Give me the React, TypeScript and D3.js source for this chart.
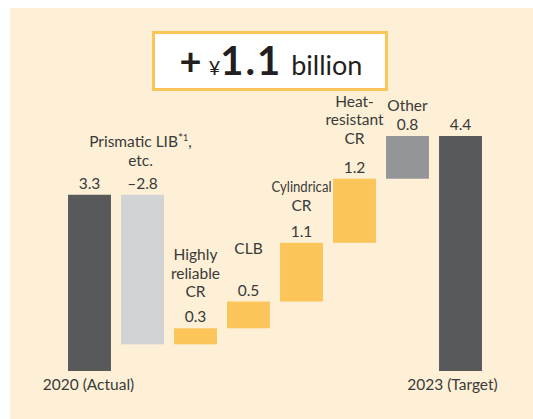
import React from 'react';
import * as d3 from 'd3';

// categories and values (¥ billion)
const categories = ['2020 (Actual)', 'Prismatic LIB', 'Highly reliable CR', 'CLB', 'Cylindrical CR', 'Heat-resistant CR', 'Other', '2023 (Target)'];
const values = [3.3, -2.8, 0.3, 0.5, 1.1, 1.2, 0.8, 4.4];
const valueLabels = ['3.3', '–2.8', '0.3', '0.5', '1.1', '1.2', '0.8', '4.4'];
const kinds = ['total', 'decrease', 'increase', 'increase', 'increase', 'increase', 'other', 'total'];
const labelLines = [
  [],
  ['Prismatic LIB*1,', 'etc.'],
  ['Highly', 'reliable', 'CR'],
  ['CLB'],
  ['Cylindrical', 'CR'],
  ['Heat-', 'resistant', 'CR'],
  ['Other'],
  [],
];

// layout: gap between value label and category label block
const labelGap = [0, 23, 25, 42, 26, 29, 19, 0];

const W = 533;
const H = 419;
const FONT = 'Lato, "Liberation Sans", sans-serif';
const TEXT = '#3a3a3a';

const colors: Record<string, string> = {
  total: '#58595b',
  decrease: '#d1d3d4',
  increase: '#fcc55a',
  other: '#939598',
};

const App: React.FC = () => {
  const x = d3.scaleBand<string>()
    .domain(categories)
    .range([63, 487])
    .paddingInner(0.19)
    .paddingOuter(0.095);

  const y = d3.scaleLinear().domain([0, 4.4]).range([371, 136]);

  // running totals for waterfall
  let cum = 0;
  const bars = categories.map((c, i) => {
    const v = values[i];
    let start: number, end: number;
    if (kinds[i] === 'total') {
      start = 0;
      end = v;
      cum = v;
    } else {
      start = cum;
      end = cum + v;
      cum = end;
    }
    return { c, i, start, end };
  });

  const lineH = 18.5;
  const fs = 15.5;

  const renderLine = (s: string) => {
    if (s.includes('*1')) {
      const [a, b] = s.split('*1');
      return (
        <>
          {a}
          <tspan fontSize={12} dy={-5}>*</tspan>
          <tspan fontSize={9} dy={-1}>1</tspan>
          <tspan dy={6}>{b}</tspan>
        </>
      );
    }
    return s;
  };

  return (
    <svg width={W} height={H} style={{ position: 'absolute', left: 0, top: 0 }} fontFamily={FONT}>
      <rect x={10} y={8} width={W - 10} height={H - 8} fill="#fdf0d6" />

      {/* headline box */}
      <rect x={153.5} y={32.5} width={233} height={57} fill="#fff" stroke="#fcc55a" strokeWidth={3} />
      <text x={271} y={75} textAnchor="middle" fill="#231f20">
        <tspan fontSize={38} fontWeight="bold">+</tspan>
        <tspan fontSize={20} dx={7}>¥</tspan>
        <tspan fontSize={40} fontWeight="bold" letterSpacing={2}>1.1</tspan>
        <tspan fontSize={27} dx={9}>billion</tspan>
      </text>

      {bars.map(b => {
        const x0 = x(b.c)!;
        const top = y(Math.max(b.start, b.end));
        const bottom = y(Math.min(b.start, b.end));
        const cx = x0 + x.bandwidth() / 2;
        const valY = top - 6;
        const lines = labelLines[b.i];
        const lastY = valY - labelGap[b.i];
        return (
          <g key={b.c}>
            <rect x={x0} y={top} width={x.bandwidth()} height={bottom - top} fill={colors[kinds[b.i]]} />
            <text x={cx} y={valY} textAnchor="middle" fontSize={fs} fill={TEXT}>{valueLabels[b.i]}</text>
            {lines.map((l, j) => (
              <text
                key={j}
                x={cx - (b.i === 1 ? 2 : 0)}
                y={lastY - (lines.length - 1 - j) * lineH}
                textAnchor="middle"
                fontSize={fs}
                fill={TEXT}
                {...(l === 'Cylindrical' ? { textLength: 60, lengthAdjust: 'spacingAndGlyphs' } : {})}
              >
                {renderLine(l)}
              </text>
            ))}
            {kinds[b.i] === 'total' && (
              <text x={cx + (b.i === 7 ? -8 : -1)} y={390} textAnchor="middle" fontSize={fs} fill={TEXT}>
                {b.c}
              </text>
            )}
          </g>
        );
      })}
    </svg>
  );
};

export default App;
